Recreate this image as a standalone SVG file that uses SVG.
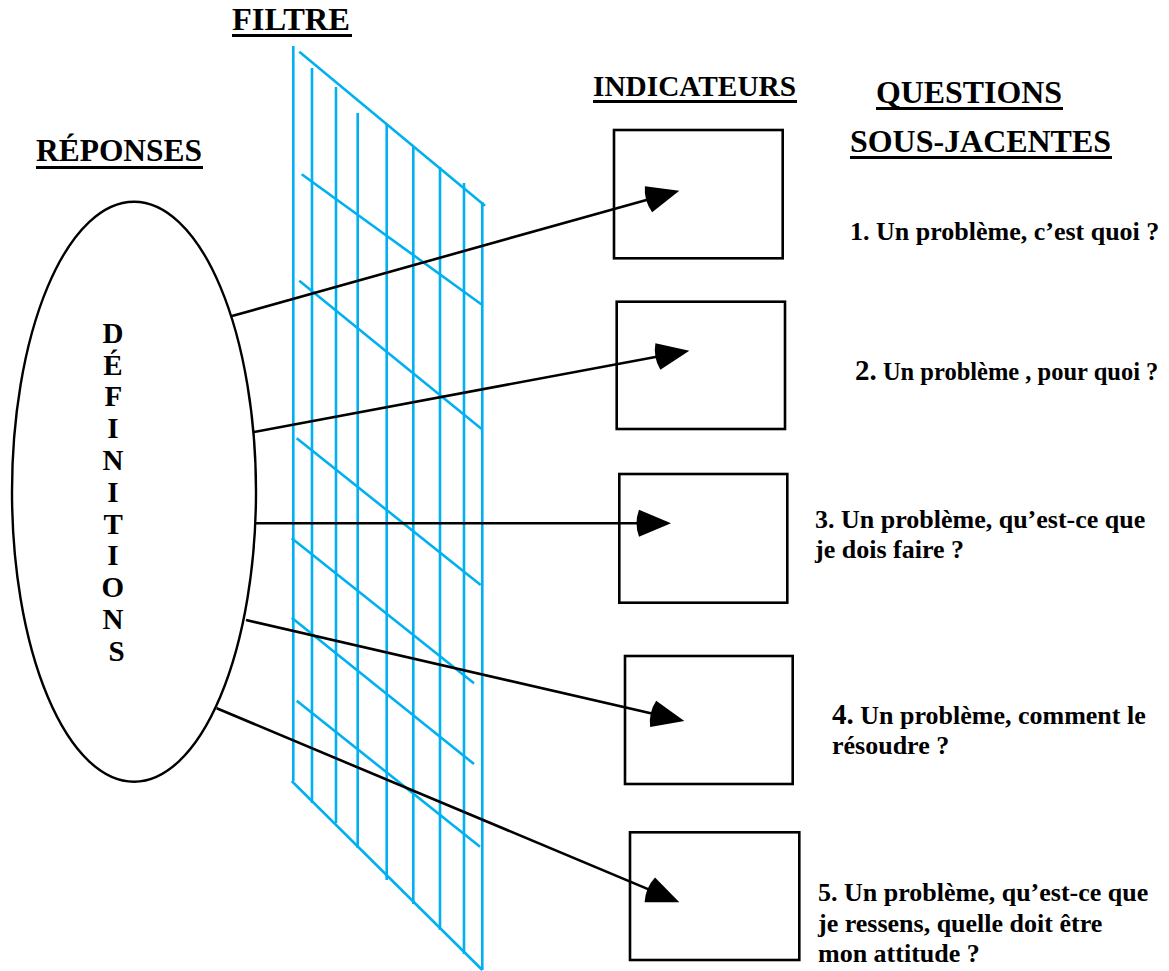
<svg xmlns="http://www.w3.org/2000/svg" width="1169" height="971" viewBox="0 0 1169 971">
<style>
.bg{fill:#ffffff}
.grid line{stroke:#00B0F0;stroke-width:2.6;stroke-linecap:butt}
.conn line{stroke:#000;stroke-width:2.6;fill:none}
.box{fill:#fff;stroke:#000;stroke-width:2.6}
.ell{fill:#fff;stroke:#000;stroke-width:2.4}
.hdr{font-family:"Liberation Serif","Times New Roman",serif;font-weight:bold;font-size:31px;fill:#000}
.q{font-family:"Liberation Serif","Times New Roman",serif;font-weight:bold;font-size:26px;fill:#000}
.q2{font-size:24.5px}
.big{font-size:29px}
.vert{font-family:"Liberation Serif","Times New Roman",serif;font-weight:bold;font-size:29px;fill:#000;text-anchor:middle}
.ul{fill:#000}
</style>
<defs>
<marker id="arr" markerUnits="userSpaceOnUse" markerWidth="40" markerHeight="34" refX="22" refY="13.5" orient="auto" viewBox="-6 0 40 27">
<path d="M0,0 L32,13.5 L0,27 Q-5,13.5 0,0 Z" fill="#000"/>
</marker>
</defs>
<rect class="bg" x="0" y="0" width="1169" height="971"/>

<g id="titles">
<text class="hdr" x="232" y="30" textLength="118" lengthAdjust="spacingAndGlyphs">FILTRE</text>
<rect class="ul" x="232" y="34" width="120" height="3"/>
<text class="hdr" x="593" y="96" style="font-size:29px" textLength="203" lengthAdjust="spacingAndGlyphs">INDICATEURS</text>
<rect class="ul" x="593" y="100" width="204" height="3"/>
<text class="hdr" x="876" y="103" textLength="186" lengthAdjust="spacingAndGlyphs">QUESTIONS</text>
<rect class="ul" x="876" y="107" width="187" height="3"/>
<text class="hdr" x="850" y="152" textLength="261" lengthAdjust="spacingAndGlyphs">SOUS-JACENTES</text>
<rect class="ul" x="850" y="156" width="262" height="3"/>
<text class="hdr" x="36" y="161" textLength="166" lengthAdjust="spacingAndGlyphs">RÉPONSES</text>
<rect class="ul" x="36" y="166" width="167" height="3"/>
</g>

<g id="filtre" class="grid">
<line x1="293.3" y1="46" x2="293.3" y2="781"/>
<line x1="312" y1="68" x2="312" y2="803"/>
<line x1="336" y1="87" x2="336" y2="823"/>
<line x1="357.7" y1="113" x2="357.7" y2="848"/>
<line x1="386.7" y1="124" x2="386.7" y2="880"/>
<line x1="413.3" y1="147" x2="413.3" y2="904"/>
<line x1="440" y1="167" x2="440" y2="930"/>
<line x1="464" y1="183" x2="464" y2="954"/>
<line x1="482.3" y1="202" x2="482.3" y2="970"/>
<line x1="299.3" y1="51.7" x2="485" y2="205.7"/>
<line x1="301.7" y1="174.3" x2="482.3" y2="305"/>
<line x1="299.3" y1="280.7" x2="482" y2="429.3"/>
<line x1="296.7" y1="438.3" x2="480.7" y2="585"/>
<line x1="291.7" y1="538.3" x2="474" y2="683.3"/>
<line x1="291.7" y1="617.7" x2="474" y2="764"/>
<line x1="296.7" y1="700.7" x2="480" y2="846.7"/>
<line x1="291.7" y1="781" x2="482.3" y2="970"/>
</g>

<g id="reponses">
<ellipse class="ell" cx="134" cy="491.7" rx="122" ry="290"/>
<text class="vert" x="116.5">
<tspan x="116.5" y="342.7">D</tspan>
<tspan x="116.5" y="374.5">É</tspan>
<tspan x="116.5" y="406.3">F</tspan>
<tspan x="116.5" y="438.1">I</tspan>
<tspan x="116.5" y="469.9">N</tspan>
<tspan x="116.5" y="501.7">I</tspan>
<tspan x="116.5" y="533.5">T</tspan>
<tspan x="116.5" y="565.3">I</tspan>
<tspan x="116.5" y="597.1">O</tspan>
<tspan x="116.5" y="628.9">N</tspan>
<tspan x="116.5" y="660.7">S</tspan>
</text>
</g>

<g id="indicateur1"><rect class="box" x="614" y="130" width="168.7" height="128.3"/></g>
<g id="indicateur2"><rect class="box" x="616.7" y="301.7" width="168.3" height="127.3"/></g>
<g id="indicateur3"><rect class="box" x="619.3" y="474" width="168" height="128.7"/></g>
<g id="indicateur4"><rect class="box" x="625" y="656" width="167.7" height="128"/></g>
<g id="indicateur5"><rect class="box" x="630" y="832.3" width="169.3" height="127.7"/></g>

<g id="connectors" class="conn">
<line x1="232" y1="316" x2="669.7" y2="193.4" marker-end="url(#arr)"/>
<line x1="254" y1="432" x2="679.5" y2="352.5" marker-end="url(#arr)"/>
<line x1="255" y1="523.2" x2="661" y2="523.2" marker-end="url(#arr)"/>
<line x1="246" y1="620" x2="674.6" y2="718.8" marker-end="url(#arr)"/>
<line x1="216.7" y1="708.3" x2="670.1" y2="898.4" marker-end="url(#arr)"/>
</g>

<g id="question1"><text class="q" x="850" y="240">1. Un problème, c’est quoi ?</text></g>
<g id="question2"><text class="q q2" x="855" y="380"><tspan class="big">2.</tspan> Un problème , pour quoi ?</text></g>
<g id="question3"><text class="q"><tspan x="815" y="528">3. Un problème, qu’est-ce que</tspan><tspan x="815" y="558">je dois faire ?</tspan></text></g>
<g id="question4"><text class="q"><tspan x="832" y="724"><tspan class="big">4.</tspan> Un problème, comment le</tspan><tspan x="832" y="754">résoudre ?</tspan></text></g>
<g id="question5"><text class="q"><tspan x="818" y="901">5. Un problème, qu’est-ce que</tspan><tspan x="818" y="932">je ressens, quelle doit être</tspan><tspan x="818" y="962">mon attitude ?</tspan></text></g>
</svg>
